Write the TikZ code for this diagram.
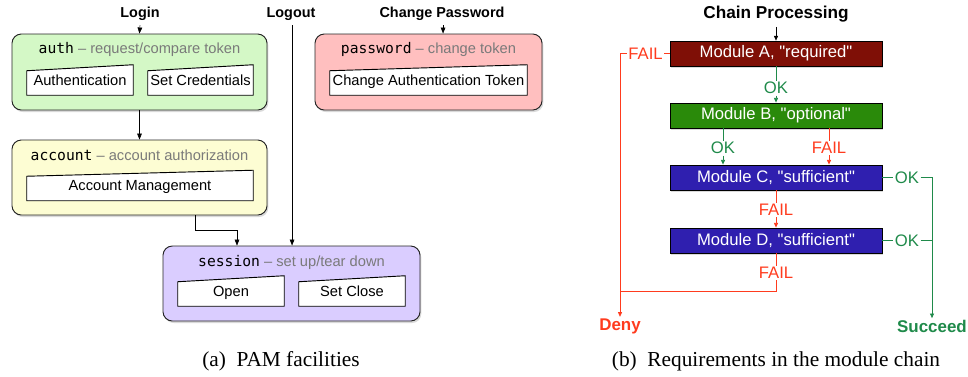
\documentclass[tikz,border=0pt]{standalone}
\usepackage{fontspec}
\setmainfont{Liberation Sans}
\setmonofont{DejaVu Sans Mono}
\newfontfamily\capfont{Liberation Serif}
\usetikzlibrary{arrows.meta,shadows}

\pgfdeclarelayer{bg}
\pgfdeclarelayer{mid}
\pgfsetlayers{bg,mid,main}

\definecolor{authgreen}{HTML}{D4F8C6}
\definecolor{acctyellow}{HTML}{FDFDD3}
\definecolor{pwpink}{HTML}{FFBFBF}
\definecolor{sesspurple}{HTML}{DACDFF}
\definecolor{modred}{HTML}{7F0F06}
\definecolor{modgreen}{HTML}{2A8A0A}
\definecolor{modblue}{HTML}{2F1FAF}
\definecolor{failred}{HTML}{FF3B1E}
\definecolor{okgreen}{HTML}{1F8A4A}
\definecolor{titlegray}{HTML}{7A7A7A}

\newcommand{\qq}[1]{\textquotedbl#1\textquotedbl}

\begin{document}
\begin{tikzpicture}[x=0.75pt,y=-0.75pt,
    facility/.style={draw=black!85, line width=0.7pt, rounded corners=7pt, inner sep=0pt,
        drop shadow={opacity=0.3, shadow xshift=1pt, shadow yshift=-1.5pt}},
    slot/.style={inner sep=0pt, minimum height=22.5pt, text depth=-1pt, font=\fontsize{11}{12}\selectfont},
    ttl/.style={font=\fontsize{11}{12}\selectfont},
    head/.style={font=\fontsize{10.8}{12}\selectfont\bfseries},
    module/.style={draw=black, line width=0.6pt, minimum width=159pt, minimum height=18.75pt,
        inner sep=0pt, text=white, font=\fontsize{12.5}{14}\selectfont,
        drop shadow={opacity=0.3, shadow xshift=1pt, shadow yshift=-1.5pt}},
    lbl/.style={inner sep=1pt, font=\fontsize{12.5}{14}\selectfont},
    okline/.style={draw=okgreen, line width=0.6pt},
    failline/.style={draw=failred, line width=0.6pt},
    arr/.style={-{Triangle[length=4.5pt,width=3.5pt]}},
    chainarr/.style={-{Triangle[length=3.5pt,width=3pt]}}]
    \useasboundingbox (0,0) rectangle (968,376);

    % PAM FACILITIES ON LEFT
    \begin{pgfonlayer}{bg}
    \node[facility, fill=authgreen, minimum width=191.25pt, minimum height=57pt] (authbox) at (139.5,72) {};
    \node[facility, fill=acctyellow, minimum width=191.25pt, minimum height=56.25pt] (acctbox) at (139.5,177.5) {};
    \node[facility, fill=pwpink, minimum width=170.25pt, minimum height=57pt] (pwbox) at (428.5,72) {};
    \node[facility, fill=sesspurple, minimum width=192.75pt, minimum height=56.25pt] (sessbox) at (291.5,283.5) {};
    \end{pgfonlayer}

    \node[ttl] (authttl) at (139.5,49) {\texttt{auth} \textcolor{titlegray}{-- request/compare token}};
    \node[ttl] (acctttl) at (139.5,155) {\texttt{account} \textcolor{titlegray}{-- account authorization}};
    \node[ttl] (pwttl) at (428.5,49) {\texttt{password} \textcolor{titlegray}{-- change token}};
    \node[ttl] (sessttl) at (291.5,262) {\texttt{session} \textcolor{titlegray}{-- set up/tear down}};

    \node[slot, minimum width=79.5pt] (authn) at (80,80) {Authentication};
    \node[slot, minimum width=78.75pt] (setcred) at (200.5,80) {Set Credentials};
    \node[slot, minimum width=169.5pt] (acctmgmt) at (140,185.5) {Account Management};
    \node[slot, minimum width=147.75pt] (chtok) at (428.5,80) {Change Authentication Token};
    \node[slot, minimum width=79.5pt] (open) at (231,291) {Open};
    \node[slot, minimum width=79.5pt] (setclose) at (352,291) {Set Close};

    \begin{pgfonlayer}{mid}
    \foreach \n in {authn,setcred,acctmgmt,chtok,open,setclose}
        \draw[fill=white, line width=0.7pt] (\n.south west) -- (\n.south east)
            -- (\n.north east) -- ([yshift=-4.5pt]\n.north west) -- cycle;
    \end{pgfonlayer}

    \node[head] (login) at (140,14) {Login};
    \node[head] (logout) at (291,14) {Logout};
    \node[head] (chpw) at (442,14) {Change Password};
    \coordinate (bend) at (237,230);

    \draw[arr] (login.south) -- (authbox.north);
    \draw[arr] (authbox.south) -- (acctbox.north);
    \draw[arr] ([xshift=41.6pt]acctbox.south) |- (bend) -- (bend |- sessbox.north);
    \draw[arr] ([xshift=0.8pt]logout.south) -- ([xshift=0.8pt]logout.south |- sessbox.north);
    \draw[arr] ([xshift=0.8pt]chpw.south) -- ([xshift=0.8pt]chpw.south |- pwbox.north);

    \node[font=\capfont\fontsize{16}{18}\selectfont] (capa) at (281,361) {(a)\enspace PAM facilities};

    % MODULE CHAIN ON RIGHT
    \node[head, font=\fontsize{12.9}{14}\selectfont\bfseries] (chain) at (776,14) {Chain Processing};
    \node[module, fill=modred] (modA) at (776,53.5) {Module A, \qq{required}};
    \node[module, fill=modgreen] (modB) at (776,115.5) {Module B, \qq{optional}};
    \node[module, fill=modblue] (modC) at (776,177.5) {Module C, \qq{sufficient}};
    \node[module, fill=modblue] (modD) at (776,240.5) {Module D, \qq{sufficient}};

    \node[lbl, text=okgreen] (okAB) at (776,88) {OK};
    \node[lbl, text=okgreen] (okBC) at (723,148) {OK};
    \node[lbl, text=failred] (failBC) at (829,148) {FAIL};
    \node[lbl, text=failred] (failCD) at (776,210) {FAIL};
    \node[lbl, text=failred] (failD) at (776,273) {FAIL};
    \node[lbl, text=failred] (failA) at (645.5,53.5) {FAIL};
    \node[lbl, text=okgreen] (okC) at (907,177.5) {OK};
    \node[lbl, text=okgreen] (okD) at (907,240.5) {OK};
    \node[lbl, text=failred, font=\fontsize{12.7}{14}\selectfont\bfseries] (deny) at (620,326) {Deny};
    \node[lbl, text=okgreen, font=\fontsize{12.7}{14}\selectfont\bfseries] (succeed) at (932,326) {Succeed};
    \coordinate (joinD) at (620,291);

    \draw[chainarr] (chain.south) -- (modA.north);
    \draw[okline] (modA.south) -- (okAB.north);
    \draw[okline, chainarr] (okAB.south) -- (modB.north);
    \draw[okline] (modB.south -| okBC.north) -- (okBC.north);
    \draw[okline, chainarr] (okBC.south) -- (okBC.south |- modC.north);
    \draw[failline] (modB.south -| failBC.north) -- (failBC.north);
    \draw[failline, chainarr] (failBC.south) -- (failBC.south |- modC.north);
    \draw[failline] (modC.south) -- (failCD.north);
    \draw[failline, chainarr] (failCD.south) -- (modD.north);
    \draw[failline] (modD.south) -- (failD.north);
    \draw[failline] (failD.south) |- (joinD);
    \draw[failline] (modA.west) -- (failA.east);
    \draw[failline, chainarr] (failA.west) -| (deny.north);
    \draw[okline] (modC.east) -- (okC.west);
    \draw[okline, chainarr] (okC.east) -| (succeed.north);
    \draw[okline] (modD.east) -- (okD.west);
    \draw[okline] (okD.east) -- (okD.east -| succeed.north);

    \node[font=\capfont\fontsize{16}{18}\selectfont] (capb) at (776,361) {(b)\enspace Requirements in the module chain};
\end{tikzpicture}
\end{document}
